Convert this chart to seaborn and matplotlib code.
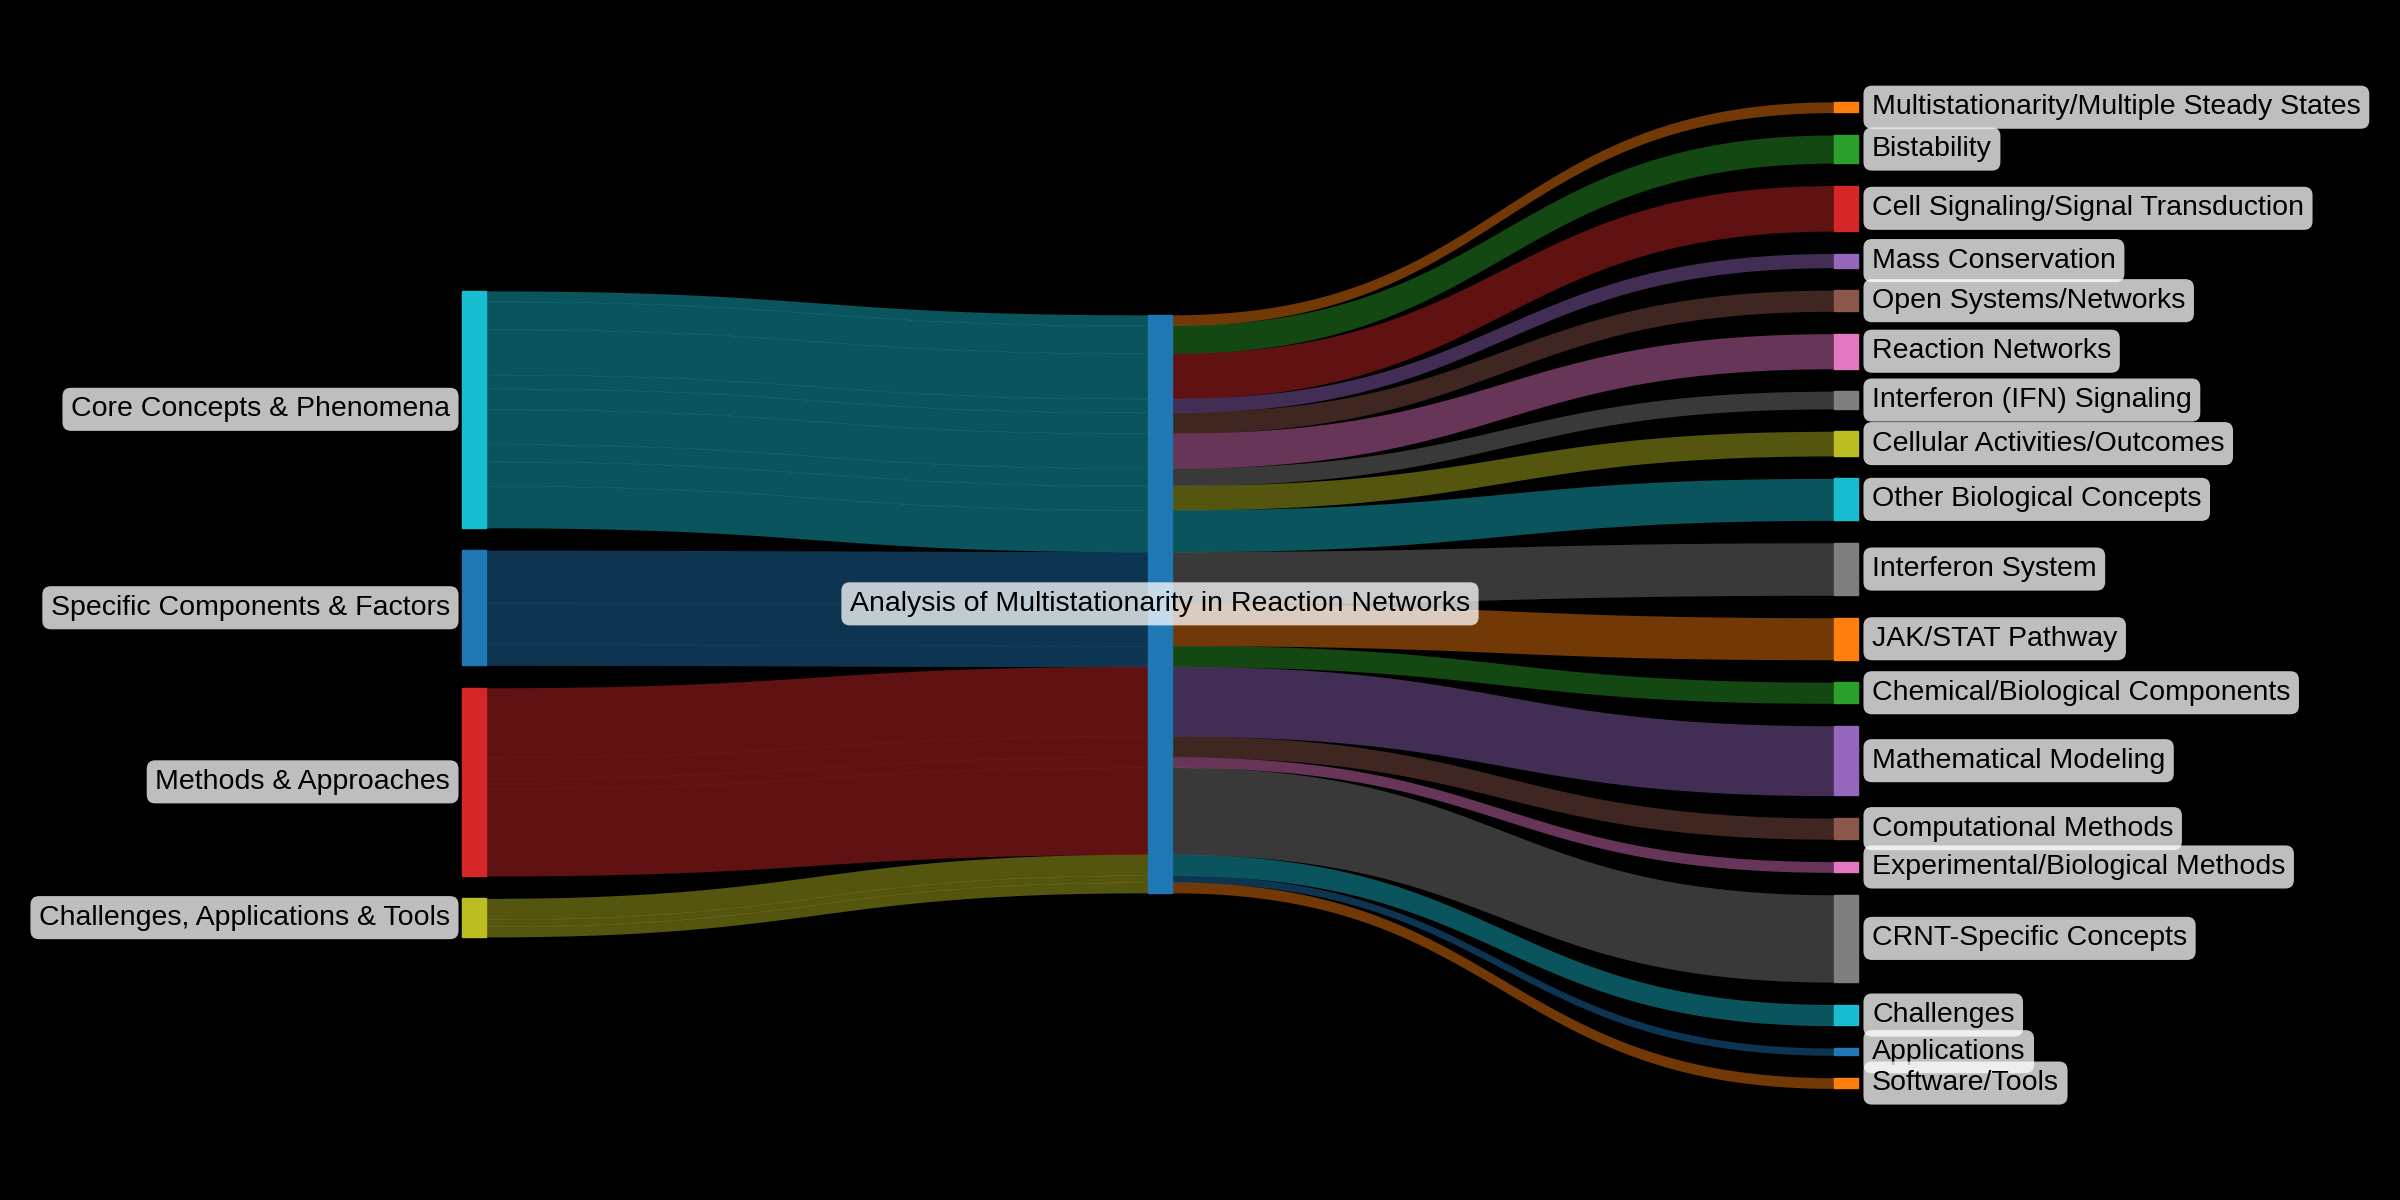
import matplotlib
matplotlib.use("Agg")
import matplotlib.pyplot as plt
import numpy as np
import seaborn as sns

# --- data ---
center = "Analysis of Multistationarity in Reaction Networks"
categories = [
    "Core Concepts & Phenomena",
    "Specific Components & Factors",
    "Methods & Approaches",
    "Challenges, Applications & Tools",
]
topics = [
    "Multistationarity/Multiple Steady States",
    "Bistability",
    "Cell Signaling/Signal Transduction",
    "Mass Conservation",
    "Open Systems/Networks",
    "Reaction Networks",
    "Interferon (IFN) Signaling",
    "Cellular Activities/Outcomes",
    "Other Biological Concepts",
    "Interferon System",
    "JAK/STAT Pathway",
    "Chemical/Biological Components",
    "Mathematical Modeling",
    "Computational Methods",
    "Experimental/Biological Methods",
    "CRNT-Specific Concepts",
    "Challenges",
    "Applications",
    "Software/Tools",
]
topic_category = [0, 0, 0, 0, 0, 0, 0, 0, 0, 1, 1, 1, 2, 2, 2, 2, 3, 3, 3]
topic_values = [3, 8, 13, 4, 6, 10, 5, 7, 12, 15, 12, 6, 20, 6, 3, 25, 6, 2, 3]

# --- style ---
sns.set_theme(style="dark", rc={"figure.facecolor": "black", "axes.facecolor": "black"})
plt.rcParams["font.family"] = ["Liberation Sans", "DejaVu Sans"]
pal = sns.color_palette("tab10")
category_colors = [pal[9], pal[0], pal[3], pal[8]]
center_color = pal[0]
topic_colors = [pal[i] for i in [1, 2, 3, 4, 5, 6, 7, 8, 9, 7, 1, 2, 4, 5, 6, 7, 9, 0, 1]]

# layout (pixel space)
unit = 3.48
pad = 22.7
node_w = 24
x_left, x_mid, x_right = 462, 1148, 1834
top_left, top_mid, top_right = 291, 315, 102
link_alpha = 0.45
fs = 20.5


def band(ax, x0, x1, y0, y1, h, color):
    t = np.linspace(0, 1, 120)
    xm = (x0 + x1) / 2
    x = (1 - t) ** 3 * x0 + 3 * (1 - t) ** 2 * t * xm + 3 * (1 - t) * t ** 2 * xm + t ** 3 * x1
    y = (1 - t) ** 3 * y0 + 3 * (1 - t) ** 2 * t * y0 + 3 * (1 - t) * t ** 2 * y1 + t ** 3 * y1
    ax.fill_between(x, y, y + h, color=color, alpha=link_alpha, lw=0.15, zorder=1)


def label(ax, x, y, s, ha):
    ax.text(x, y, s, ha=ha, va="center", fontsize=fs, color="black", zorder=5,
            bbox=dict(boxstyle="round,pad=0.3", fc=(1, 1, 1, 0.75), ec="none"))


fig = plt.figure(figsize=(24, 12), dpi=100)
ax = fig.add_axes([0, 0, 1, 1])
ax.set_xlim(0, 2400)
ax.set_ylim(1200, 0)
ax.axis("off")

cat_totals = [sum(v for v, c in zip(topic_values, topic_category) if c == k) for k in range(len(categories))]

# left nodes
cat_tops = []
y = top_left
for k, name in enumerate(categories):
    h = cat_totals[k] * unit
    cat_tops.append(y)
    ax.add_patch(plt.Rectangle((x_left, y), node_w, h, color=category_colors[k], zorder=3))
    label(ax, x_left - 12, y + h / 2, name, "right")
    y += h + pad

# middle node
total = sum(topic_values)
ax.add_patch(plt.Rectangle((x_mid, top_mid), node_w, total * unit, color=center_color, zorder=3))

# right nodes
y = top_right
topic_tops = []
for i, name in enumerate(topics):
    h = topic_values[i] * unit
    topic_tops.append(y)
    ax.add_patch(plt.Rectangle((x_right, y), node_w, h, color=topic_colors[i], zorder=3))
    label(ax, x_right + node_w + 14, y + h / 2, name, "left")
    y += h + pad

# links: category -> center (one per topic), center -> topic
src_off = list(cat_tops)
mid_in = top_mid
mid_out = top_mid
for i, v in enumerate(topic_values):
    k = topic_category[i]
    h = v * unit
    band(ax, x_left + node_w, x_mid, src_off[k], mid_in, h, category_colors[k])
    src_off[k] += h
    mid_in += h
    band(ax, x_mid + node_w, x_right, mid_out, topic_tops[i], h, topic_colors[i])
    mid_out += h

label(ax, x_mid + node_w / 2, top_mid + total * unit / 2, center, "center")

fig.savefig("out.png", dpi=100, facecolor="black")
